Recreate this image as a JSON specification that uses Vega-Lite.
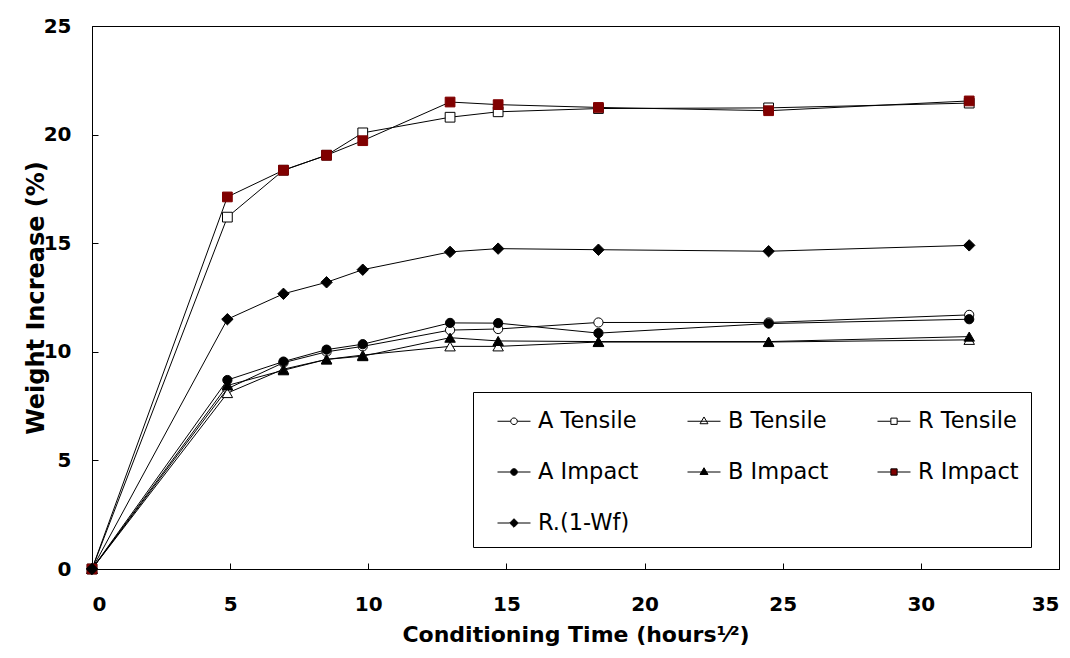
{
  "$schema": "https://vega.github.io/schema/vega-lite/v6.json",
  "width": 967,
  "height": 543,
  "autosize": {"type": "none"},
  "padding": {"left": 92, "top": 26, "right": 11, "bottom": 89},
  "background": "white",
  "config": {
    "view": {"stroke": "black", "strokeWidth": 1},
    "font": "DejaVu Sans",
    "axis": {
      "grid": false,
      "domainColor": "black",
      "tickColor": "black",
      "tickSize": -6,
      "labelFont": "DejaVu Sans",
      "labelFontWeight": "bold",
      "labelFontSize": 20,
      "labelColor": "black",
      "titleFont": "DejaVu Sans",
      "titleFontWeight": "bold",
      "titleColor": "black"
    }
  },
  "data": {
    "values": [
      {"series": "A Tensile", "t": 0, "w": 0},
      {"series": "A Tensile", "t": 4.9, "w": 8.3},
      {"series": "A Tensile", "t": 6.93, "w": 9.5},
      {"series": "A Tensile", "t": 8.49, "w": 10.0},
      {"series": "A Tensile", "t": 9.8, "w": 10.25},
      {"series": "A Tensile", "t": 12.96, "w": 11.0},
      {"series": "A Tensile", "t": 14.7, "w": 11.05},
      {"series": "A Tensile", "t": 18.33, "w": 11.35},
      {"series": "A Tensile", "t": 24.49, "w": 11.35},
      {"series": "A Tensile", "t": 31.75, "w": 11.7},
      {"series": "B Tensile", "t": 0, "w": 0},
      {"series": "B Tensile", "t": 4.9, "w": 8.1},
      {"series": "B Tensile", "t": 6.93, "w": 9.2},
      {"series": "B Tensile", "t": 8.49, "w": 9.65},
      {"series": "B Tensile", "t": 9.8, "w": 9.85},
      {"series": "B Tensile", "t": 12.96, "w": 10.25},
      {"series": "B Tensile", "t": 14.7, "w": 10.25},
      {"series": "B Tensile", "t": 18.33, "w": 10.45},
      {"series": "B Tensile", "t": 24.49, "w": 10.45},
      {"series": "B Tensile", "t": 31.75, "w": 10.55},
      {"series": "R Tensile", "t": 0, "w": 0},
      {"series": "R Tensile", "t": 4.9, "w": 16.2},
      {"series": "R Tensile", "t": 6.93, "w": 18.36},
      {"series": "R Tensile", "t": 8.49, "w": 19.05},
      {"series": "R Tensile", "t": 9.8, "w": 20.08},
      {"series": "R Tensile", "t": 12.96, "w": 20.8},
      {"series": "R Tensile", "t": 14.7, "w": 21.05},
      {"series": "R Tensile", "t": 18.33, "w": 21.2},
      {"series": "R Tensile", "t": 24.49, "w": 21.23},
      {"series": "R Tensile", "t": 31.75, "w": 21.45},
      {"series": "A Impact", "t": 0, "w": 0},
      {"series": "A Impact", "t": 4.9, "w": 8.7},
      {"series": "A Impact", "t": 6.93, "w": 9.55},
      {"series": "A Impact", "t": 8.49, "w": 10.1},
      {"series": "A Impact", "t": 9.8, "w": 10.35},
      {"series": "A Impact", "t": 12.96, "w": 11.33},
      {"series": "A Impact", "t": 14.7, "w": 11.32},
      {"series": "A Impact", "t": 18.33, "w": 10.86},
      {"series": "A Impact", "t": 24.49, "w": 11.3},
      {"series": "A Impact", "t": 31.75, "w": 11.5},
      {"series": "B Impact", "t": 0, "w": 0},
      {"series": "B Impact", "t": 4.9, "w": 8.45},
      {"series": "B Impact", "t": 6.93, "w": 9.15},
      {"series": "B Impact", "t": 8.49, "w": 9.65},
      {"series": "B Impact", "t": 9.8, "w": 9.8},
      {"series": "B Impact", "t": 12.96, "w": 10.65},
      {"series": "B Impact", "t": 14.7, "w": 10.5},
      {"series": "B Impact", "t": 18.33, "w": 10.47},
      {"series": "B Impact", "t": 24.49, "w": 10.47},
      {"series": "B Impact", "t": 31.75, "w": 10.7},
      {"series": "R Impact", "t": 0, "w": 0},
      {"series": "R Impact", "t": 4.9, "w": 17.13},
      {"series": "R Impact", "t": 6.93, "w": 18.36},
      {"series": "R Impact", "t": 8.49, "w": 19.05},
      {"series": "R Impact", "t": 9.8, "w": 19.72},
      {"series": "R Impact", "t": 12.96, "w": 21.5},
      {"series": "R Impact", "t": 14.7, "w": 21.38},
      {"series": "R Impact", "t": 18.33, "w": 21.25},
      {"series": "R Impact", "t": 24.49, "w": 21.1},
      {"series": "R Impact", "t": 31.75, "w": 21.55},
      {"series": "R.(1-Wf)", "t": 0, "w": 0},
      {"series": "R.(1-Wf)", "t": 4.9, "w": 11.5},
      {"series": "R.(1-Wf)", "t": 6.93, "w": 12.67},
      {"series": "R.(1-Wf)", "t": 8.49, "w": 13.2},
      {"series": "R.(1-Wf)", "t": 9.8, "w": 13.78},
      {"series": "R.(1-Wf)", "t": 12.96, "w": 14.6},
      {"series": "R.(1-Wf)", "t": 14.7, "w": 14.75},
      {"series": "R.(1-Wf)", "t": 18.33, "w": 14.7},
      {"series": "R.(1-Wf)", "t": 24.49, "w": 14.63},
      {"series": "R.(1-Wf)", "t": 31.75, "w": 14.9}
    ]
  },
  "encoding": {
    "x": {
      "field": "t",
      "type": "quantitative",
      "scale": {"domain": [0, 35], "nice": false, "zero": false},
      "axis": {
        "values": [0, 5, 10, 15, 20, 25, 30, 35],
        "title": "Conditioning Time (hours¹⁄²)",
        "titleFontSize": 22,
        "labelPadding": 31,
        "titlePadding": 10
      }
    },
    "y": {
      "field": "w",
      "type": "quantitative",
      "scale": {"domain": [0, 25], "nice": false},
      "axis": {
        "values": [0, 5, 10, 15, 20, 25],
        "title": "Weight Increase (%)",
        "titleFontSize": 24,
        "labelPadding": 27,
        "titlePadding": -5
      }
    }
  },
  "layer": [
    {
      "mark": {"type": "line", "color": "black", "strokeWidth": 1},
      "encoding": {"detail": {"field": "series"}}
    },
    {
      "transform": [{"filter": {"field": "series", "equal": "A Tensile"}}],
      "mark": {"type": "point", "shape": "circle", "filled": true, "fill": "white", "stroke": "black", "strokeWidth": 1, "size": 85, "opacity": 1}
    },
    {
      "transform": [{"filter": {"field": "series", "equal": "B Tensile"}}],
      "mark": {"type": "point", "shape": "triangle-up", "filled": true, "fill": "white", "stroke": "black", "strokeWidth": 1, "size": 110, "opacity": 1}
    },
    {
      "transform": [{"filter": {"field": "series", "equal": "R Tensile"}}],
      "mark": {"type": "point", "shape": "square", "filled": true, "fill": "white", "stroke": "black", "strokeWidth": 1, "size": 95, "opacity": 1}
    },
    {
      "transform": [{"filter": {"field": "series", "equal": "A Impact"}}],
      "mark": {"type": "point", "shape": "circle", "filled": true, "fill": "black", "stroke": "black", "strokeWidth": 1, "size": 85, "opacity": 1}
    },
    {
      "transform": [{"filter": {"field": "series", "equal": "B Impact"}}],
      "mark": {"type": "point", "shape": "triangle-up", "filled": true, "fill": "black", "stroke": "black", "strokeWidth": 1, "size": 110, "opacity": 1}
    },
    {
      "transform": [{"filter": {"field": "series", "equal": "R Impact"}}],
      "mark": {"type": "point", "shape": "square", "filled": true, "fill": "#800000", "stroke": "#800000", "strokeWidth": 1, "size": 95, "opacity": 1}
    },
    {
      "transform": [{"filter": {"field": "series", "equal": "R.(1-Wf)"}}],
      "mark": {"type": "point", "shape": "diamond", "filled": true, "fill": "black", "stroke": "black", "strokeWidth": 1, "size": 130, "opacity": 1}
    },
    {
      "transform": [{"filter": "false"}],
      "mark": {"type": "point", "filled": true, "size": 1089, "strokeWidth": 1, "opacity": 1},
      "encoding": {
        "shape": {
          "field": "series",
          "scale": {
            "domain": ["A Tensile", "B Tensile", "R Tensile", "A Impact", "B Impact", "R Impact", "R.(1-Wf)"],
            "range": [
              "M-1,0H-0.2M0.2,0H1M-0.2,0A0.2,0.2 0 1,0 0.2,0A0.2,0.2 0 1,0 -0.2,0Z",
              "M-1,0H1M0,-0.26L0.24,0.15L-0.24,0.15Z",
              "M-1,0H-0.19M0.19,0H1M-0.19,-0.19H0.19V0.19H-0.19Z",
              "M-1,0H-0.2M0.2,0H1M-0.2,0A0.2,0.2 0 1,0 0.2,0A0.2,0.2 0 1,0 -0.2,0Z",
              "M-1,0H1M0,-0.26L0.24,0.15L-0.24,0.15Z",
              "M-1,0H-0.19M0.19,0H1M-0.19,-0.19H0.19V0.19H-0.19Z",
              "M-1,0H-0.26M0.26,0H1M0,-0.26L0.26,0L0,0.26L-0.26,0Z"
            ]
          },
          "legend": {
            "title": null,
            "orient": "none",
            "legendX": 381,
            "legendY": 366,
            "columns": 3,
            "direction": "horizontal",
            "strokeColor": "black",
            "fillColor": "white",
            "padding": 12,
            "symbolSize": 1089,
            "symbolOffset": 12,
            "symbolStrokeWidth": 1,
            "symbolOpacity": 1,
            "labelFont": "DejaVu Sans",
            "labelFontSize": 22.5,
            "labelColor": "black",
            "labelOffset": 7,
            "columnPadding": 36,
            "rowPadding": 22,
            "labelLimit": 300
          }
        },
        "fill": {
          "field": "series",
          "scale": {
            "domain": ["A Tensile", "B Tensile", "R Tensile", "A Impact", "B Impact", "R Impact", "R.(1-Wf)"],
            "range": ["white", "white", "white", "black", "black", "#800000", "black"]
          }
        },
        "stroke": {
          "field": "series",
          "scale": {
            "domain": ["A Tensile", "B Tensile", "R Tensile", "A Impact", "B Impact", "R Impact", "R.(1-Wf)"],
            "range": ["black", "black", "black", "black", "black", "black", "black"]
          }
        }
      }
    }
  ]
}
